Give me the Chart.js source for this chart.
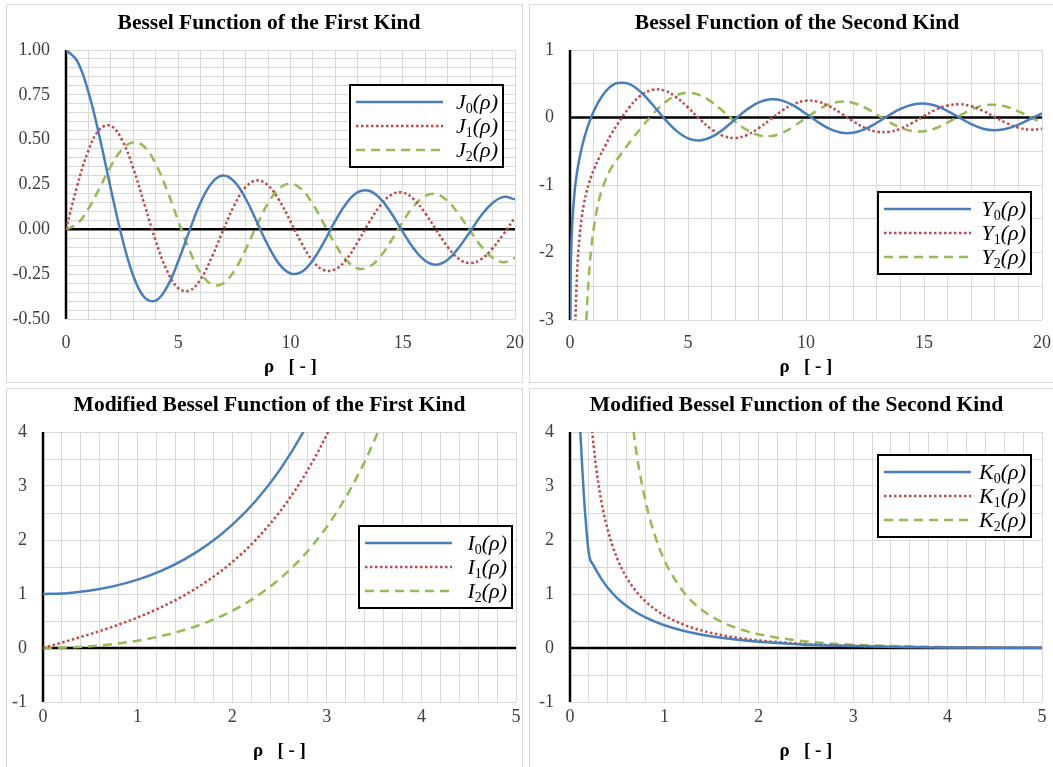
<!DOCTYPE html>
<html>
<head>
<meta charset="utf-8">
<script src="https://cdn.jsdelivr.net/npm/chart.js@4.4.0/dist/chart.umd.min.js"></script>
<style>
    body { margin: 0; width: 1053px; height: 767px; overflow: hidden; position: relative; background: #fff; }
    .frame { position: absolute; box-sizing: border-box; border: 1px solid #d9d9d9; }
    canvas { position: absolute; }
</style>
</head>
<body>
<div class="frame" style="left:6px;top:4px;width:517px;height:379px"></div>
<div class="frame" style="left:529px;top:4px;width:530px;height:379px"></div>
<div class="frame" style="left:6px;top:388px;width:517px;height:390px"></div>
<div class="frame" style="left:529px;top:388px;width:530px;height:390px"></div>
<canvas id="c1" width="524" height="379" style="left:6px;top:4px"></canvas>
<canvas id="c2" width="524" height="379" style="left:529px;top:4px"></canvas>
<canvas id="c3" width="524" height="379" style="left:6px;top:388px"></canvas>
<canvas id="c4" width="524" height="379" style="left:529px;top:388px"></canvas>
<script>

// ======================================================
// Data
// ======================================================

const rhoJ = [0, 0.5, 1, 1.5, 2, 2.5, 3, 3.5, 4, 4.5, 5, 5.5, 6, 6.5, 7, 7.5, 8, 8.5, 9, 9.5, 10,
    10.5, 11, 11.5, 12, 12.5, 13, 13.5, 14, 14.5, 15, 15.5, 16, 16.5, 17, 17.5, 18, 18.5, 19, 19.5, 20];

const j0 = [1, 0.938, 0.765, 0.512, 0.224, -0.048, -0.260, -0.380, -0.397, -0.321, -0.178, -0.007, 0.151, 0.260, 0.300, 0.266, 0.172, 0.042, -0.090, -0.194, -0.246,
    -0.237, -0.171, -0.068, 0.048, 0.147, 0.207, 0.215, 0.171, 0.088, -0.014, -0.109, -0.175, -0.197, -0.170, -0.101, -0.013, 0.078, 0.147, 0.181, 0.167];

const j1 = [0, 0.242, 0.440, 0.558, 0.577, 0.497, 0.339, 0.137, -0.066, -0.231, -0.328, -0.341, -0.277, -0.154, -0.005, 0.135, 0.235, 0.273, 0.245, 0.161, 0.044,
    -0.079, -0.177, -0.228, -0.223, -0.166, -0.070, 0.038, 0.133, 0.193, 0.205, 0.167, 0.090, -0.005, -0.098, -0.165, -0.188, -0.166, -0.106, -0.024, 0.067];

const j2 = [0, 0.031, 0.115, 0.232, 0.353, 0.446, 0.486, 0.459, 0.364, 0.218, 0.047, -0.117, -0.243, -0.307, -0.301, -0.230, -0.113, 0.022, 0.145, 0.228, 0.255,
    0.222, 0.139, 0.028, -0.085, -0.173, -0.218, -0.209, -0.152, -0.061, 0.042, 0.131, 0.186, 0.196, 0.158, 0.083, -0.008, -0.095, -0.158, -0.183, -0.160];

const rhoY = [0.01, 0.02, 0.05, 0.1, 0.2, 0.3, 0.4, 0.5, 0.6, 0.7, 0.8, 0.9, 1, 1.25, 1.5, 1.75, 2,
    2.5, 3, 3.5, 4, 4.5, 5, 5.5, 6, 6.5, 7, 7.5, 8, 8.5, 9, 9.5, 10,
    10.5, 11, 11.5, 12, 12.5, 13, 13.5, 14, 14.5, 15, 15.5, 16, 16.5, 17, 17.5, 18, 18.5, 19, 19.5, 20];

const y0 = [-3.005, -2.564, -1.979, -1.534, -1.081, -0.807, -0.606, -0.445, -0.309, -0.191, -0.087, 0.006, 0.088, 0.257, 0.382, 0.465, 0.510,
    0.498, 0.377, 0.189, -0.017, -0.195, -0.309, -0.340, -0.288, -0.173, -0.026, 0.117, 0.224, 0.270, 0.250, 0.171, 0.056,
    -0.066, -0.169, -0.225, -0.225, -0.171, -0.078, 0.030, 0.127, 0.189, 0.206, 0.174, 0.096, -0.001, -0.097, -0.166, -0.188, -0.168, -0.106, -0.023, 0.063];

const y1 = [null, null, null, null, -3.324, -2.293, -1.781, -1.471, -1.260, -1.103, -0.978, -0.873, -0.781, -0.584, -0.412, -0.245, -0.107,
    0.146, 0.325, 0.410, 0.398, 0.301, 0.148, -0.024, -0.175, -0.274, -0.303, -0.259, -0.158, -0.026, 0.104, 0.203, 0.249,
    0.234, 0.164, 0.058, -0.057, -0.154, -0.210, -0.214, -0.167, -0.081, 0.021, 0.115, 0.178, 0.196, 0.167, 0.097, 0.008, -0.083, -0.150, -0.180, -0.166];

const y2 = [null, null, null, null, null, null, null, null, -3.893, -2.961, -2.358, -1.946, -1.651, -1.192, -0.932, -0.745, -0.617,
    -0.381, -0.160, 0.045, 0.216, 0.328, 0.368, 0.331, 0.230, 0.089, -0.061, -0.186, -0.263, -0.276, -0.227, -0.128, -0.006,
    0.111, 0.199, 0.235, 0.216, 0.147, 0.046, -0.062, -0.151, -0.200, -0.203, -0.159, -0.074, 0.025, 0.117, 0.177, 0.188, 0.159, 0.090, 0.005, -0.079];

const rhoI = [0, 0.25, 0.5, 0.75, 1, 1.25, 1.5, 1.75, 2, 2.25, 2.5, 2.75, 3, 3.25, 3.5, 3.75, 4, 4.25, 4.5, 4.75, 5];

const i0 = [1, 1.016, 1.064, 1.146, 1.266, 1.430, 1.647, 1.925, 2.280, 2.727, 3.290, 3.996, 4.881, null, null, null, null, null, null, null, null];

const i1 = [0, 0.126, 0.258, 0.402, 0.565, 0.755, 0.982, 1.256, 1.591, 2.004, 2.517, 3.155, 3.953, 4.953, null, null, null, null, null, null, null];

const i2 = [0, 0.008, 0.032, 0.074, 0.136, 0.222, 0.338, 0.490, 0.689, 0.946, 1.277, 1.701, 2.245, 2.942, 3.832, 4.969, null, null, null, null, null];

const rhoK = [0.1, 0.15, 0.2, 0.25, 0.3, 0.35, 0.4, 0.5, 0.6, 0.7, 0.8, 0.9, 1, 1.2, 1.4, 1.6, 1.8, 2, 2.5, 3, 3.5, 4, 4.5, 5];

const k0 = [4.3, 2.75, 1.75, 1.53, 1.372, 1.233, 1.115, 0.924, 0.777, 0.661, 0.565, 0.487, 0.421, 0.319, 0.244, 0.188, 0.146, 0.114, 0.062, 0.035, 0.020, 0.011, 0.006, 0.004];

const k1 = [9.854, 6.477, 4.776, 3.747, 3.056, 2.559, 2.184, 1.656, 1.303, 1.050, 0.862, 0.717, 0.602, 0.435, 0.321, 0.241, 0.183, 0.140, 0.074, 0.040, 0.022, 0.012, 0.007, 0.004];

const k2 = [null, null, null, null, null, null, null, null, 5.120, 3.661, 2.720, 2.079, 1.625, 1.043, 0.702, 0.489, 0.349, 0.254, 0.121, 0.062, 0.032, 0.018, 0.010, 0.005];

// labelled tick values
const jTickLabels = [-0.5, -0.25, 0, 0.25, 0.5, 0.75, 1];
const yTickLabels = [-3, -2, -1, 0, 1];
const modTickLabels = [-1, 0, 1, 2, 3, 4];
const wideRhoLabels = [0, 5, 10, 15, 20];
const narrowRhoLabels = [0, 1, 2, 3, 4, 5];

// ======================================================
// Styles
// ======================================================

const serif = '"Liberation Serif", "Times New Roman", serif';
const blue = "#4A7EBB";
const red = "#BE4B48";
const green = "#98B954";
const gridGray = "#D9D9D9";
const tickColor = "#404040";

function hasValue(list, v) {
    return list.some(t => Math.abs(t - v) < 1e-6);
}

// ======================================================
// Plugins: title, black axis lines, boxed legend
// ======================================================

const panelTitle = {
    id: "panelTitle",
    afterDraw(chart, args, opts) {
        const ctx = chart.ctx;
        ctx.save();
        ctx.fillStyle = "#000";
        ctx.font = "bold 21.5px " + serif;
        ctx.textAlign = "center";
        ctx.textBaseline = "middle";
        ctx.fillText(opts.text, opts.x, opts.y);
        ctx.restore();
    }
};

const axisLines = {
    id: "axisLines",
    beforeDatasetsDraw(chart) {
        const { ctx, chartArea: a, scales: { x, y } } = chart;
        const px = x.getPixelForValue(0);
        const py = y.getPixelForValue(0);
        ctx.save();
        ctx.strokeStyle = "#000";
        ctx.lineWidth = 2.5;
        ctx.beginPath();
        ctx.moveTo(px, a.top);
        ctx.lineTo(px, a.bottom);
        ctx.moveTo(a.left, py);
        ctx.lineTo(a.right, py);
        ctx.stroke();
        ctx.restore();
    }
};

const boxLegend = {
    id: "boxLegend",
    afterDatasetsDraw(chart, args, opts) {
        const { ctx, chartArea: a } = chart;
        const w = 153;
        const h = 82;
        const bx = a.right - opts.right - w;
        const by = a.top + opts.top;
        ctx.save();
        ctx.fillStyle = "#fff";
        ctx.fillRect(bx, by, w, h);
        ctx.strokeStyle = "#000";
        ctx.lineWidth = 2;
        ctx.strokeRect(bx, by, w, h);
        const big = "italic 22px " + serif;
        const small = "14px " + serif;
        chart.data.datasets.forEach((ds, i) => {
            const ry = by + 17 + i * 24;
            ctx.strokeStyle = ds.borderColor;
            ctx.lineWidth = ds.borderWidth;
            ctx.setLineDash(ds.borderDash || []);
            ctx.beginPath();
            ctx.moveTo(bx + 6, ry);
            ctx.lineTo(bx + 93, ry);
            ctx.stroke();
            ctx.setLineDash([]);
            const letter = ds.label[0];
            const sub = ds.label[1];
            const rest = ds.label.slice(2);
            ctx.font = big;
            const wl = ctx.measureText(letter).width;
            const wr = ctx.measureText(rest).width;
            ctx.font = small;
            const ws = ctx.measureText(sub).width;
            let tx = bx + w - 5 - (wl + ws + wr);
            ctx.fillStyle = "#000";
            ctx.textBaseline = "alphabetic";
            ctx.font = big;
            ctx.fillText(letter, tx, ry + 7);
            tx += wl;
            ctx.font = small;
            ctx.fillText(sub, tx, ry + 11);
            tx += ws;
            ctx.font = big;
            ctx.fillText(rest, tx, ry + 7);
        });
        ctx.restore();
    }
};

// ======================================================
// Panel builder
// ======================================================

function series(label, xs, ys, color, dash) {
    return {
        label: label,
        data: xs.map((x, i) => ({ x: x, y: ys[i] })),
        borderColor: color,
        borderWidth: 2.5,
        borderDash: dash,
        pointRadius: 0,
        fill: false
    };
}

function noScalePadding(s) {
    s.paddingLeft = 0;
    s.paddingRight = 0;
    s.paddingTop = 0;
    s.paddingBottom = 0;
}

function makePanel(id, cfg) {
    cfg.datasets.forEach(ds => {
        ds.tension = 0.4;
        ds.cubicInterpolationMode = cfg.mode;
    });
    return new Chart(document.getElementById(id), {
        type: "line",
        data: { datasets: cfg.datasets },
        options: {
            responsive: false,
            animation: false,
            layout: { padding: { left: 0, right: cfg.padRight, top: cfg.padTop, bottom: 0 } },
            plugins: {
                legend: { display: false },
                tooltip: { enabled: false },
                title: { display: false },
                panelTitle: cfg.title,
                boxLegend: cfg.legend
            },
            scales: {
                x: {
                    type: "linear",
                    min: cfg.xMin,
                    max: cfg.xMax,
                    afterFit: s => { s.height = cfg.xHeight; noScalePadding(s); },
                    border: { display: false },
                    grid: { color: gridGray, lineWidth: 1, drawTicks: false },
                    ticks: {
                        stepSize: cfg.xStep,
                        autoSkip: false,
                        maxRotation: 0,
                        padding: cfg.xTickPad,
                        color: tickColor,
                        font: { family: serif, size: 18 },
                        callback: v => hasValue(cfg.xLabels, v) ? String(Math.round(v)) : ""
                    },
                    title: {
                        display: true,
                        text: "ρ   [ - ]",
                        color: "#000",
                        font: { family: serif, size: 19, weight: "bold" },
                        padding: { top: 0, bottom: cfg.xTitlePad }
                    }
                },
                y: {
                    min: cfg.yMin,
                    max: cfg.yMax,
                    afterFit: s => { s.width = cfg.yWidth; noScalePadding(s); },
                    border: { display: false },
                    grid: { color: gridGray, lineWidth: 1, drawTicks: false },
                    ticks: {
                        stepSize: cfg.yStep,
                        autoSkip: false,
                        padding: 16,
                        color: tickColor,
                        font: { family: serif, size: 18 },
                        callback: v => hasValue(cfg.yLabels, v) ? cfg.yFormat(v) : ""
                    }
                }
            }
        },
        plugins: [axisLines, boxLegend, panelTitle]
    });
}

// ======================================================
// Bessel Function of the First Kind
// ======================================================

makePanel("c1", {
    title: { text: "Bessel Function of the First Kind", x: 263, y: 19 },
    datasets: [
        series("J0(ρ)", rhoJ, j0, blue, []),
        series("J1(ρ)", rhoJ, j1, red, [2.5, 2.5]),
        series("J2(ρ)", rhoJ, j2, green, [9, 6])
    ],
    mode: "default",
    padTop: 46, padRight: 15, yWidth: 60,
    xHeight: 64, xTickPad: 13, xTitlePad: 4.6,
    xMin: 0, xMax: 20, xStep: 1, xLabels: wideRhoLabels,
    yMin: -0.5, yMax: 1, yStep: 0.05, yLabels: jTickLabels,
    yFormat: v => v.toFixed(2),
    legend: { right: 12, top: 35 }
});

// ======================================================
// Bessel Function of the Second Kind
// ======================================================

makePanel("c2", {
    title: { text: "Bessel Function of the Second Kind", x: 268, y: 19 },
    datasets: [
        series("Y0(ρ)", rhoY, y0, blue, []),
        series("Y1(ρ)", rhoY, y1, red, [2.5, 2.5]),
        series("Y2(ρ)", rhoY, y2, green, [9, 6])
    ],
    mode: "default",
    padTop: 46, padRight: 11, yWidth: 41,
    xHeight: 63, xTickPad: 12, xTitlePad: 4.6,
    xMin: 0, xMax: 20, xStep: 1, xLabels: wideRhoLabels,
    yMin: -3, yMax: 1, yStep: 0.5, yLabels: yTickLabels,
    yFormat: v => String(Math.round(v)),
    legend: { right: 11, top: 142 }
});

// ======================================================
// Modified Bessel Function of the First Kind
// ======================================================

makePanel("c3", {
    title: { text: "Modified Bessel Function of the First Kind", x: 263.5, y: 17 },
    datasets: [
        series("I0(ρ)", rhoI, i0, blue, []),
        series("I1(ρ)", rhoI, i1, red, [2.5, 2.5]),
        series("I2(ρ)", rhoI, i2, green, [9, 6])
    ],
    mode: "monotone",
    padTop: 44, padRight: 14, yWidth: 37,
    xHeight: 65, xTickPad: 4, xTitlePad: 5,
    xMin: 0, xMax: 5, xStep: 0.2, xLabels: narrowRhoLabels,
    yMin: -1, yMax: 4, yStep: 0.5, yLabels: modTickLabels,
    yFormat: v => String(Math.round(v)),
    legend: { right: 4, top: 94 }
});

// ======================================================
// Modified Bessel Function of the Second Kind
// ======================================================

makePanel("c4", {
    title: { text: "Modified Bessel Function of the Second Kind", x: 267.5, y: 17 },
    datasets: [
        series("K0(ρ)", rhoK, k0, blue, []),
        series("K1(ρ)", rhoK, k1, red, [2.5, 2.5]),
        series("K2(ρ)", rhoK, k2, green, [9, 6])
    ],
    mode: "monotone",
    padTop: 44, padRight: 11, yWidth: 41,
    xHeight: 65, xTickPad: 4, xTitlePad: 5,
    xMin: 0, xMax: 5, xStep: 0.2, xLabels: narrowRhoLabels,
    yMin: -1, yMax: 4, yStep: 0.5, yLabels: modTickLabels,
    yFormat: v => String(Math.round(v)),
    legend: { right: 11, top: 23 }
});

</script>
</body>
</html>
